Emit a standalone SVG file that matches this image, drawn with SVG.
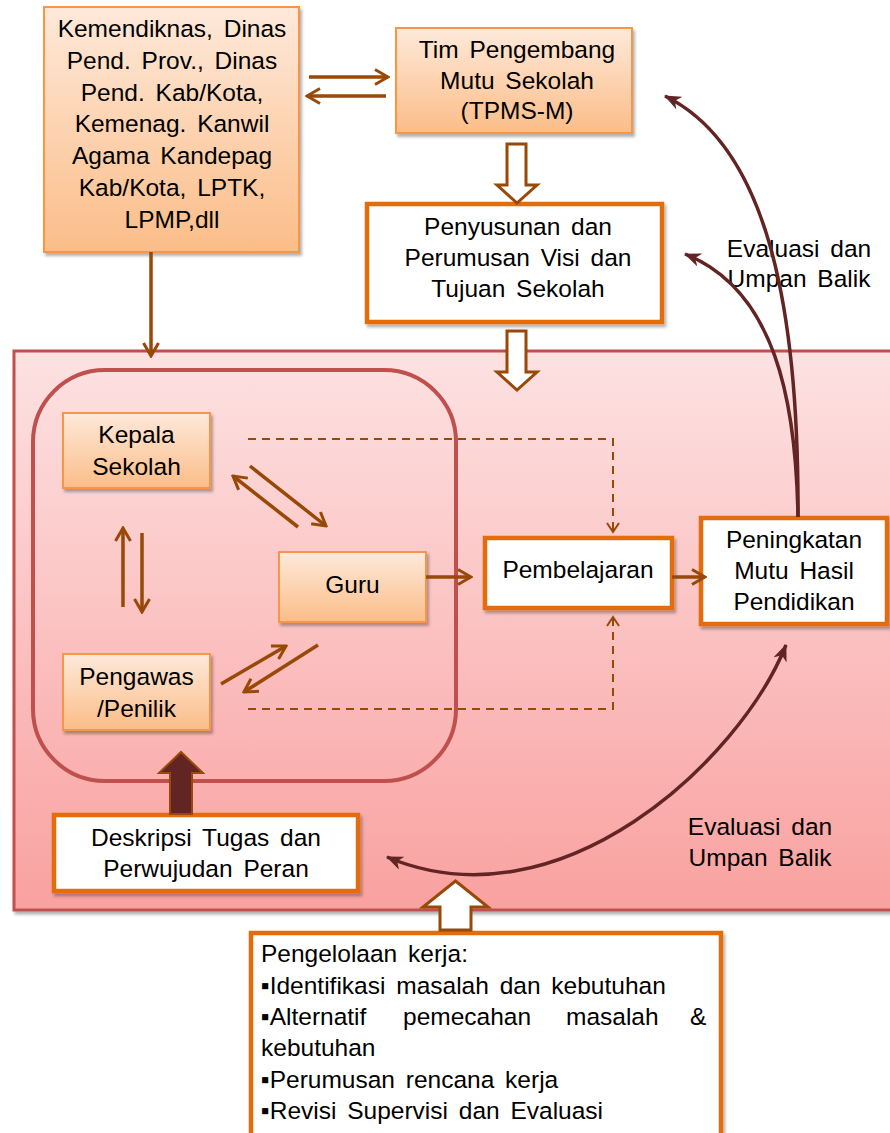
<svg xmlns="http://www.w3.org/2000/svg" width="890" height="1133" viewBox="0 0 890 1133">
<defs>
<linearGradient id="gOr" x1="0" y1="0" x2="0" y2="1"><stop offset="0" stop-color="#fee9da"/><stop offset="1" stop-color="#fbbd88"/></linearGradient>
<linearGradient id="gPink" x1="0" y1="0" x2="0" y2="1"><stop offset="0" stop-color="#fde2e2"/><stop offset="1" stop-color="#f9a1a0"/></linearGradient>
<filter id="sh" x="-10%" y="-10%" width="130%" height="130%"><feDropShadow dx="2" dy="3" stdDeviation="1.5" flood-color="#000" flood-opacity="0.3"/></filter>
<marker id="ah" viewBox="0 0 16 18" refX="14" refY="9" markerWidth="16" markerHeight="18" markerUnits="userSpaceOnUse" orient="auto"><path d="M1,1.5 L14,9 L1,16.5" fill="none" stroke="#984807" stroke-width="3"/></marker>
<marker id="ahs" viewBox="0 0 12 14" refX="10" refY="7" markerWidth="12" markerHeight="14" markerUnits="userSpaceOnUse" orient="auto"><path d="M1,1 L10,7 L1,13" fill="none" stroke="#984807" stroke-width="2"/></marker>
<marker id="ahd" viewBox="0 0 18 14" refX="16" refY="7" markerWidth="18" markerHeight="14" markerUnits="userSpaceOnUse" orient="auto-start-reverse"><path d="M0,0 L17,7 L0,14 L5,7 z" fill="#632523"/></marker>
<style>
text{font-family:"Liberation Sans",Arial,sans-serif;font-size:24.5px;fill:#000;word-spacing:4px}
.c{text-anchor:middle}
.ob{fill:url(#gOr);stroke:#f79646;stroke-width:2;filter:url(#sh)}
.wb{fill:#fff;stroke:#e36c09;stroke-width:4.5;filter:url(#sh)}
.ar{fill:none;stroke:#984807;stroke-width:3.5;marker-end:url(#ah)}
.da{fill:none;stroke:#984807;stroke-width:2;stroke-dasharray:8 6;marker-end:url(#ahs)}
.cv{fill:none;stroke:#632523;stroke-width:3.5;marker-end:url(#ahd)}
.ho{fill:#fff;stroke:#984807;stroke-width:3}
</style>
</defs>

<g id="area-sekolah">
<rect x="14" y="351" width="890" height="559" fill="url(#gPink)" stroke="#c0504d" stroke-width="3" filter="url(#sh)"/>
</g>
<g id="area-pelaku">
<rect x="33" y="370" width="423" height="411" rx="72" fill="none" stroke="#c0504d" stroke-width="4"/>
</g>

<g id="kemendiknas">
<rect class="ob" x="44" y="7" width="255" height="245"/>
<text class="c" x="172" y="37">Kemendiknas, Dinas</text>
<text class="c" x="172" y="69">Pend. Prov., Dinas</text>
<text class="c" x="172" y="101">Pend. Kab/Kota,</text>
<text class="c" x="172" y="132">Kemenag. Kanwil</text>
<text class="c" x="172" y="164">Agama Kandepag</text>
<text class="c" x="172" y="196">Kab/Kota, LPTK,</text>
<text class="c" x="172" y="228">LPMP,dll</text>
</g>

<g id="tpms">
<rect class="ob" x="396" y="28" width="236" height="105"/>
<text class="c" x="517" y="58">Tim Pengembang</text>
<text class="c" x="517" y="89">Mutu Sekolah</text>
<text class="c" x="517" y="119">(TPMS-M)</text>
</g>

<g id="penyusunan">
<rect class="wb" x="367" y="204" width="295" height="118"/>
<text class="c" x="518" y="235">Penyusunan dan</text>
<text class="c" x="518" y="266">Perumusan Visi dan</text>
<text class="c" x="518" y="297">Tujuan Sekolah</text>
</g>

<g id="kepala">
<rect class="ob" x="63" y="413" width="147" height="75"/>
<text class="c" x="136.5" y="443">Kepala</text>
<text class="c" x="136.5" y="475">Sekolah</text>
</g>

<g id="guru">
<rect class="ob" x="279" y="552" width="147" height="70"/>
<text class="c" x="352.5" y="593">Guru</text>
</g>

<g id="pengawas">
<rect class="ob" x="63" y="654" width="147" height="76"/>
<text class="c" x="136.5" y="685">Pengawas</text>
<text class="c" x="136.5" y="717">/Penilik</text>
</g>

<g id="pembelajaran">
<rect class="wb" x="485" y="538" width="187" height="70"/>
<text class="c" x="578" y="578">Pembelajaran</text>
</g>

<g id="peningkatan">
<rect class="wb" x="701" y="518" width="186" height="106"/>
<text class="c" x="794" y="548">Peningkatan</text>
<text class="c" x="794" y="579">Mutu Hasil</text>
<text class="c" x="794" y="610">Pendidikan</text>
</g>

<g id="deskripsi">
<rect class="wb" x="54" y="815" width="304" height="76"/>
<text class="c" x="206" y="846">Deskripsi Tugas dan</text>
<text class="c" x="206" y="877">Perwujudan Peran</text>
</g>

<g id="pengelolaan">
<rect class="wb" x="251" y="933" width="470" height="215"/>
<text x="261" y="962">Pengelolaan kerja:</text>
<text x="261" y="994">▪Identifikasi masalah dan kebutuhan</text>
<text y="1025"><tspan x="261">▪Alternatif</tspan><tspan x="403">pemecahan</tspan><tspan x="566">masalah</tspan><tspan x="690">&amp;</tspan></text>
<text x="261" y="1056">kebutuhan</text>
<text x="261" y="1088">▪Perumusan rencana kerja</text>
<text x="261" y="1119">▪Revisi Supervisi dan Evaluasi</text>
</g>

<g id="label-evaluasi-atas">
<text class="c" x="799" y="257">Evaluasi dan</text>
<text class="c" x="799" y="287">Umpan Balik</text>
</g>
<g id="label-evaluasi-bawah">
<text class="c" x="760" y="835">Evaluasi dan</text>
<text class="c" x="760" y="866">Umpan Balik</text>
</g>

<g id="connectors">
<line class="ar" x1="309" y1="77" x2="388" y2="77"/>
<line class="ar" x1="386" y1="96" x2="307" y2="96"/>
<line class="ar" x1="151" y1="252" x2="151" y2="356"/>
<polygon class="ho" points="507,144 526,144 526,185 537,185 517,203 497,185 507,185"/>
<polygon class="ho" points="507,331 526,331 526,372 537,372 517,390 497,372 507,372"/>
<polygon class="ho" points="440,930 471,930 471,907 488,907 455.5,881 423,907 440,907"/>
<polygon points="170,814 192,814 192,773 203,773 181,752 159,773 170,773" fill="#632523" stroke="#984807" stroke-width="2"/>
<line class="ar" x1="123" y1="607" x2="123" y2="528"/>
<line class="ar" x1="142" y1="533" x2="142" y2="612"/>
<line class="ar" x1="298" y1="527" x2="233" y2="476"/>
<line class="ar" x1="250" y1="466" x2="326" y2="526"/>
<line class="ar" x1="221" y1="684" x2="286" y2="646"/>
<line class="ar" x1="318" y1="645" x2="244" y2="692"/>
<line class="ar" x1="426" y1="577" x2="471" y2="577"/>
<line class="ar" x1="672" y1="577" x2="705" y2="577"/>
<polyline class="da" points="248,439 613,439 613,532"/>
<polyline class="da" points="248,709 613,709 613,617"/>
<path class="cv" d="M798,517 C799,300 765,145 665,96"/>
<path class="cv" d="M798,517 C796,400 775,290 685,254"/>
<path class="cv" d="M786,645 C740,760 560,930 387,857" style="marker-start:url(#ahd)"/>
</g>
</svg>
